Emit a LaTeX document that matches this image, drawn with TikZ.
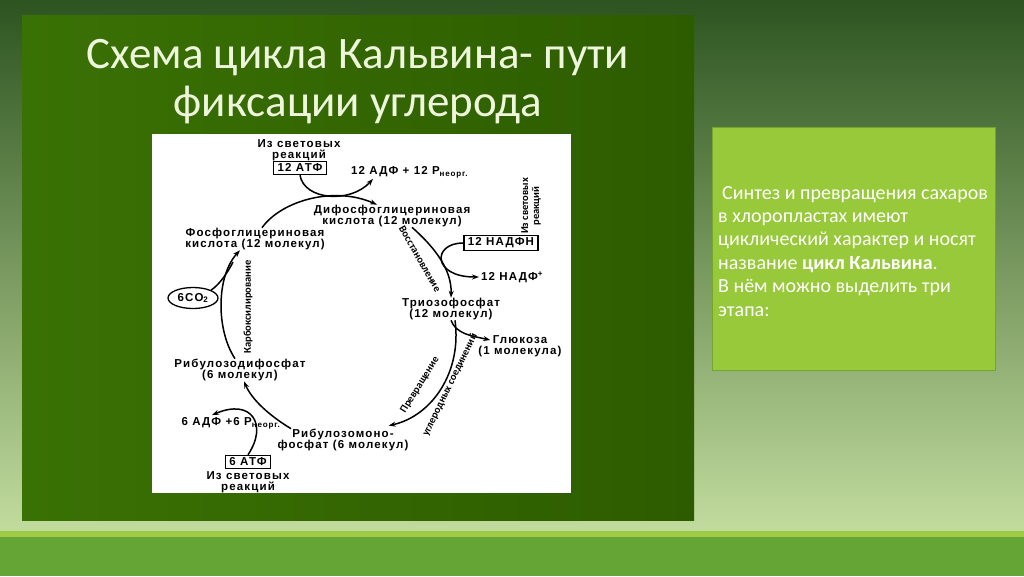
\documentclass[tikz,border=0pt]{standalone}
\usepackage{fontspec}
\setmainfont{Carlito}
\newfontfamily\schemefont{Liberation Sans}[LetterSpace=10]
\usetikzlibrary{arrows.meta,shapes.geometric}
\definecolor{slidetop}{HTML}{2D5420}
\definecolor{slidebottom}{HTML}{C2DC9E}
\definecolor{panelleft}{HTML}{3A7104}
\definecolor{panelright}{HTML}{2D5C00}
\definecolor{stripe}{HTML}{9FCC45}
\definecolor{footer}{HTML}{64A536}
\definecolor{notefill}{HTML}{98C93A}
\definecolor{noteline}{HTML}{74A52C}
\definecolor{titletext}{HTML}{EEF7DC}
\newcommand\schemesize{\schemefont\bfseries\fontsize{11.5}{11.5}\selectfont}

\begin{document}
\begin{tikzpicture}[x=1pt, y=-1pt,
  title/.style={font=\fontsize{45}{48}\selectfont, text=titletext, anchor=base, inner sep=0pt},
  lbl/.style={font=\schemesize, align=center, inner sep=0pt},
  boxed/.style={draw, line width=1.3pt, font=\schemesize, inner xsep=4pt, inner ysep=2.5pt},
  turned/.style={font=\bfseries\fontsize{10.5}{11}\selectfont, align=center, inner sep=0pt},
  cyc/.style={line width=1.5pt, -{Stealth[length=7pt,width=5pt]}},
  bare/.style={line width=1.5pt}]
  \useasboundingbox (0,0) rectangle (1024,576);
  \shade[top color=slidetop, bottom color=slidebottom] (0,0) rectangle (1024,532);
  \fill[stripe] (0,531) rectangle (1024,537);
  \fill[footer] (0,537) rectangle (1024,576);
  \shade[left color=panelleft, right color=panelright] (22,15) rectangle (694,520);
  \fill[white] (152,134) rectangle (571,493);

  \node[title] (head1) at (358,68) {Схема цикла Кальвина- пути};
  \node[title] (head2) at (358,116) {фиксации углерода};

  \node[draw=noteline, fill=notefill, line width=1pt, minimum width=283pt, minimum height=243pt, anchor=north west] (notebox) at (712,127) {};
  \node[anchor=north west, align=left, text=white, inner sep=0pt,
    font=\fontsize{20}{23.4}\selectfont] (notetext) at (718,186)
    {\hspace{4pt}Синтез и превращения сахаров\\в хлоропластах имеют\\циклический характер и носят\\название \textbf{цикл Кальвина}.\\В нём можно выделить три\\этапа:};

  \node[lbl] (lightA) at (299,150) {Из световых\\реакций};
  \node[boxed] (atp12) at (300,168) {12 АТФ};
  \node[lbl, anchor=west] (adp12) at (351,172) {12 АДФ + 12 P\textsubscript{неорг.}};
  \node[lbl] (dpga) at (392,216) {Дифосфоглицериновая\\кислота (12 молекул)};
  \node[lbl] (pga) at (255,239) {Фосфоглицериновая\\кислота (12 молекул)};
  \node[turned, rotate=90] (lightB) at (531,206) {Из световых\\реакций};
  \node[boxed] (nadph) at (501,243) {12 НАДФН};
  \node[lbl, anchor=west] (nadp) at (481,277) {12 НАДФ\textsuperscript{+}};
  \node[turned, rotate=-60] (reduce) at (420,259) {Восстановление};
  \node[lbl] (triose) at (451,309) {Триозофосфат\\(12 молекул)};
  \node[lbl] (glucose) at (520,346) {Глюкоза\\(1 молекула)};
  \node[turned, rotate=58] (turnA) at (420,385) {Превращение};
  \node[turned, rotate=64] (turnB) at (450,385) {углеродных соединений};
  \node[lbl] (rmp) at (343,440) {Рибулозомоно-\\фосфат (6 молекул)};
  \node[boxed] (atp6) at (248,462) {6 АТФ};
  \node[lbl] (lightC) at (248,482) {Из световых\\реакций};
  \node[lbl] (adp6) at (231,423) {6 АДФ +6 P\textsubscript{неорг.}};
  \node[lbl] (rdp) at (240,370) {Рибулозодифосфат\\(6 молекул)};
  \node[draw, ellipse, line width=1.3pt, font=\schemesize, inner sep=1pt, minimum width=50pt, minimum height=21pt] (co2) at (193,298) {6CO\textsubscript{2}};
  \node[turned, rotate=90] (carb) at (248,307) {Карбоксилирование};
  \coordinate (co2join) at (233,262);

  \draw[cyc] ([xshift=7pt]pga.north) .. controls (282,200) and (335,186) .. ([xshift=-15pt]dpga.north);
  \draw[cyc] (atp12.south) .. controls (304,200) and (350,204) .. ([xshift=22pt,yshift=-1pt]adp12.south west);
  \draw[cyc] ([xshift=20pt]dpga.south) .. controls (432,245) and (452,268) .. (triose.north);
  \draw[cyc, shorten >=2pt] (nadph.west) .. controls (432,243) and (432,277) .. (nadp.west);
  \draw[cyc] (triose.south) .. controls (456,334) and (472,336) .. ([xshift=12pt,yshift=6pt]glucose.west);
  \draw[cyc] ([xshift=4pt]triose.south) .. controls (462,372) and (432,416) .. ([xshift=-20pt,yshift=3pt]rmp.north east);
  \draw[cyc] ([xshift=-52pt]rmp.north) .. controls (270,416) and (252,400) .. ([xshift=4pt]rdp.south);
  \draw[cyc] (atp6.north) .. controls (268,425) and (252,398) .. ([xshift=-19pt,yshift=2pt]adp6.north);
  \draw[cyc] ([xshift=-5pt]rdp.north) .. controls (216,330) and (216,276) .. ([xshift=-15pt]pga.south);
  \draw[bare] (co2.north east) .. controls (220,284) and (228,272) .. (co2join);
\end{tikzpicture}
\end{document}
